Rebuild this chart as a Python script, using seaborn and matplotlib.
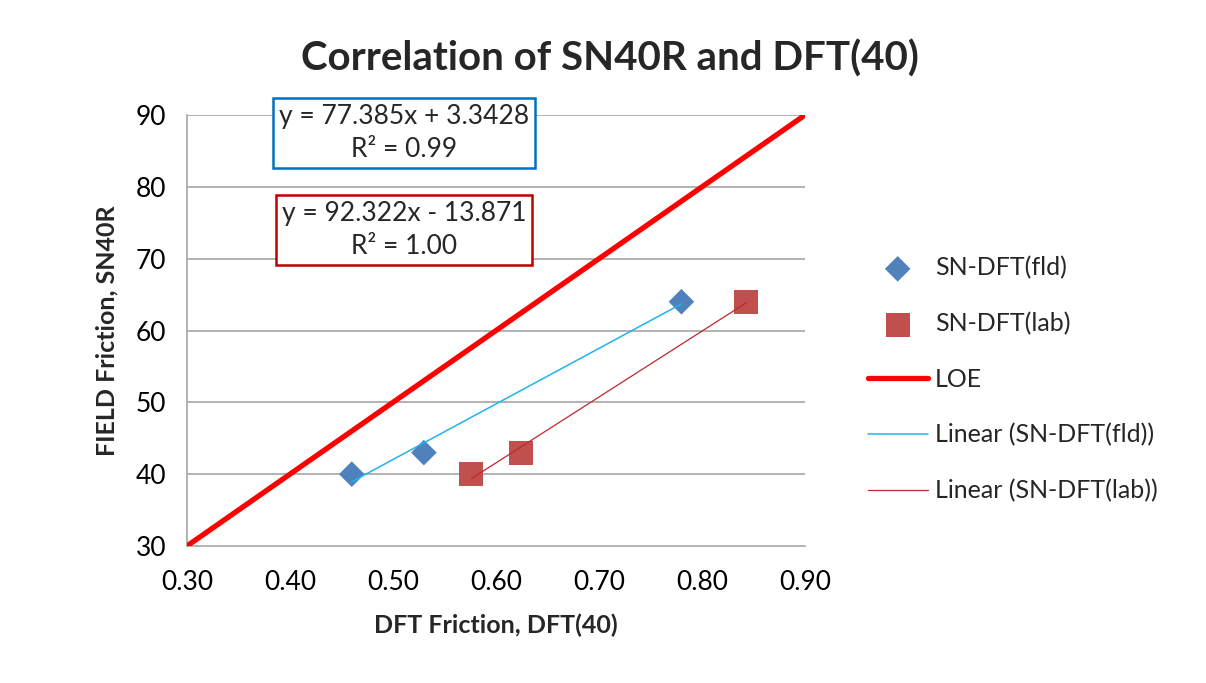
import numpy as np
import pandas as pd
import matplotlib
matplotlib.use('Agg')
import matplotlib.pyplot as plt
import seaborn as sns

# data
dft_fld = [0.46, 0.53, 0.78]
sn_fld = [40, 43, 64]
dft_lab = [0.576, 0.624, 0.843]
sn_lab = [40, 43, 64]
loe_x = [0.30, 0.90]
loe_y = [30, 90]
eq_fld = 'y = 77.385x + 3.3428\nR² = 0.99'
eq_lab = 'y = 92.322x - 13.871\nR² = 1.00'

fld = pd.DataFrame({'dft': dft_fld, 'sn': sn_fld})
lab = pd.DataFrame({'dft': dft_lab, 'sn': sn_lab})

sns.set_style('white')
plt.rcParams['font.family'] = ['Lato', 'DejaVu Sans']

fig = plt.figure(figsize=(12.06, 6.83), dpi=100)
ax = fig.add_axes([0.155, 0.2006, 0.5125, 0.631])

grid_c = '#a6a6a6'
for yv in range(40, 100, 10):
    ax.axhline(yv, color=grid_c, lw=1.2, zorder=0)

sns.scatterplot(data=fld, x='dft', y='sn', marker='D', s=170, color='#4f81bd',
                edgecolor='none', ax=ax, label='SN-DFT(fld)', zorder=4)
sns.scatterplot(data=lab, x='dft', y='sn', marker='s', s=300, color='#c0504d',
                edgecolor='none', ax=ax, label='SN-DFT(lab)', zorder=4)
sns.lineplot(x=loe_x, y=loe_y, color='#ff0000', lw=3.8, ax=ax, label='LOE', zorder=3)
sns.regplot(data=fld, x='dft', y='sn', scatter=False, ci=None, ax=ax,
            line_kws={'color': '#1fb4ec', 'lw': 1.1, 'zorder': 5}, label='Linear (SN-DFT(fld))')
sns.regplot(data=lab, x='dft', y='sn', scatter=False, ci=None, ax=ax,
            line_kws={'color': '#c0272d', 'lw': 0.9, 'zorder': 5}, label='Linear (SN-DFT(lab))')

ax.set_xlim(0.30, 0.90)
ax.set_ylim(30, 90)
ax.set_xticks(np.arange(0.30, 0.91, 0.10))
ax.set_xticklabels([f'{v:.2f}' for v in np.arange(0.30, 0.91, 0.10)])
ax.set_yticks(range(30, 91, 10))
ax.tick_params(axis='both', labelsize=19, colors='#a6a6a6', labelcolor='black',
               direction='out', length=7, width=1.2)
ax.tick_params(axis='x', pad=10)
ax.tick_params(axis='y', pad=8)
for side in ['top', 'right']:
    ax.spines[side].set_visible(False)
for side in ['left', 'bottom']:
    ax.spines[side].set_color(grid_c)
    ax.spines[side].set_linewidth(1.2)

ax.set_xlabel('DFT Friction, DFT(40)', fontsize=18, fontweight='bold', labelpad=14)
ax.set_ylabel('FIELD Friction, SN40R', fontsize=18, fontweight='bold', labelpad=12)
fig.suptitle('Correlation of SN40R and DFT(40)', fontsize=29, fontweight='bold', x=0.506, y=0.942)

ax.text(0.335, 0.848, eq_fld, transform=fig.transFigure, ha='center', va='top',
        fontsize=19, linespacing=1.4,
        bbox=dict(boxstyle='square,pad=0.22', fc='white', ec='#0070c0', lw=1.8))
ax.text(0.335, 0.706, eq_lab, transform=fig.transFigure, ha='center', va='top',
        fontsize=19, linespacing=1.4,
        bbox=dict(boxstyle='square,pad=0.22', fc='white', ec='#c00000', lw=1.8))

ax.legend(loc='center left', bbox_to_anchor=(1.065, 0.387), frameon=False, fontsize=18,
          labelspacing=1.3, handlelength=2.4, handletextpad=0.3)

fig.savefig('out.png', dpi=100)
